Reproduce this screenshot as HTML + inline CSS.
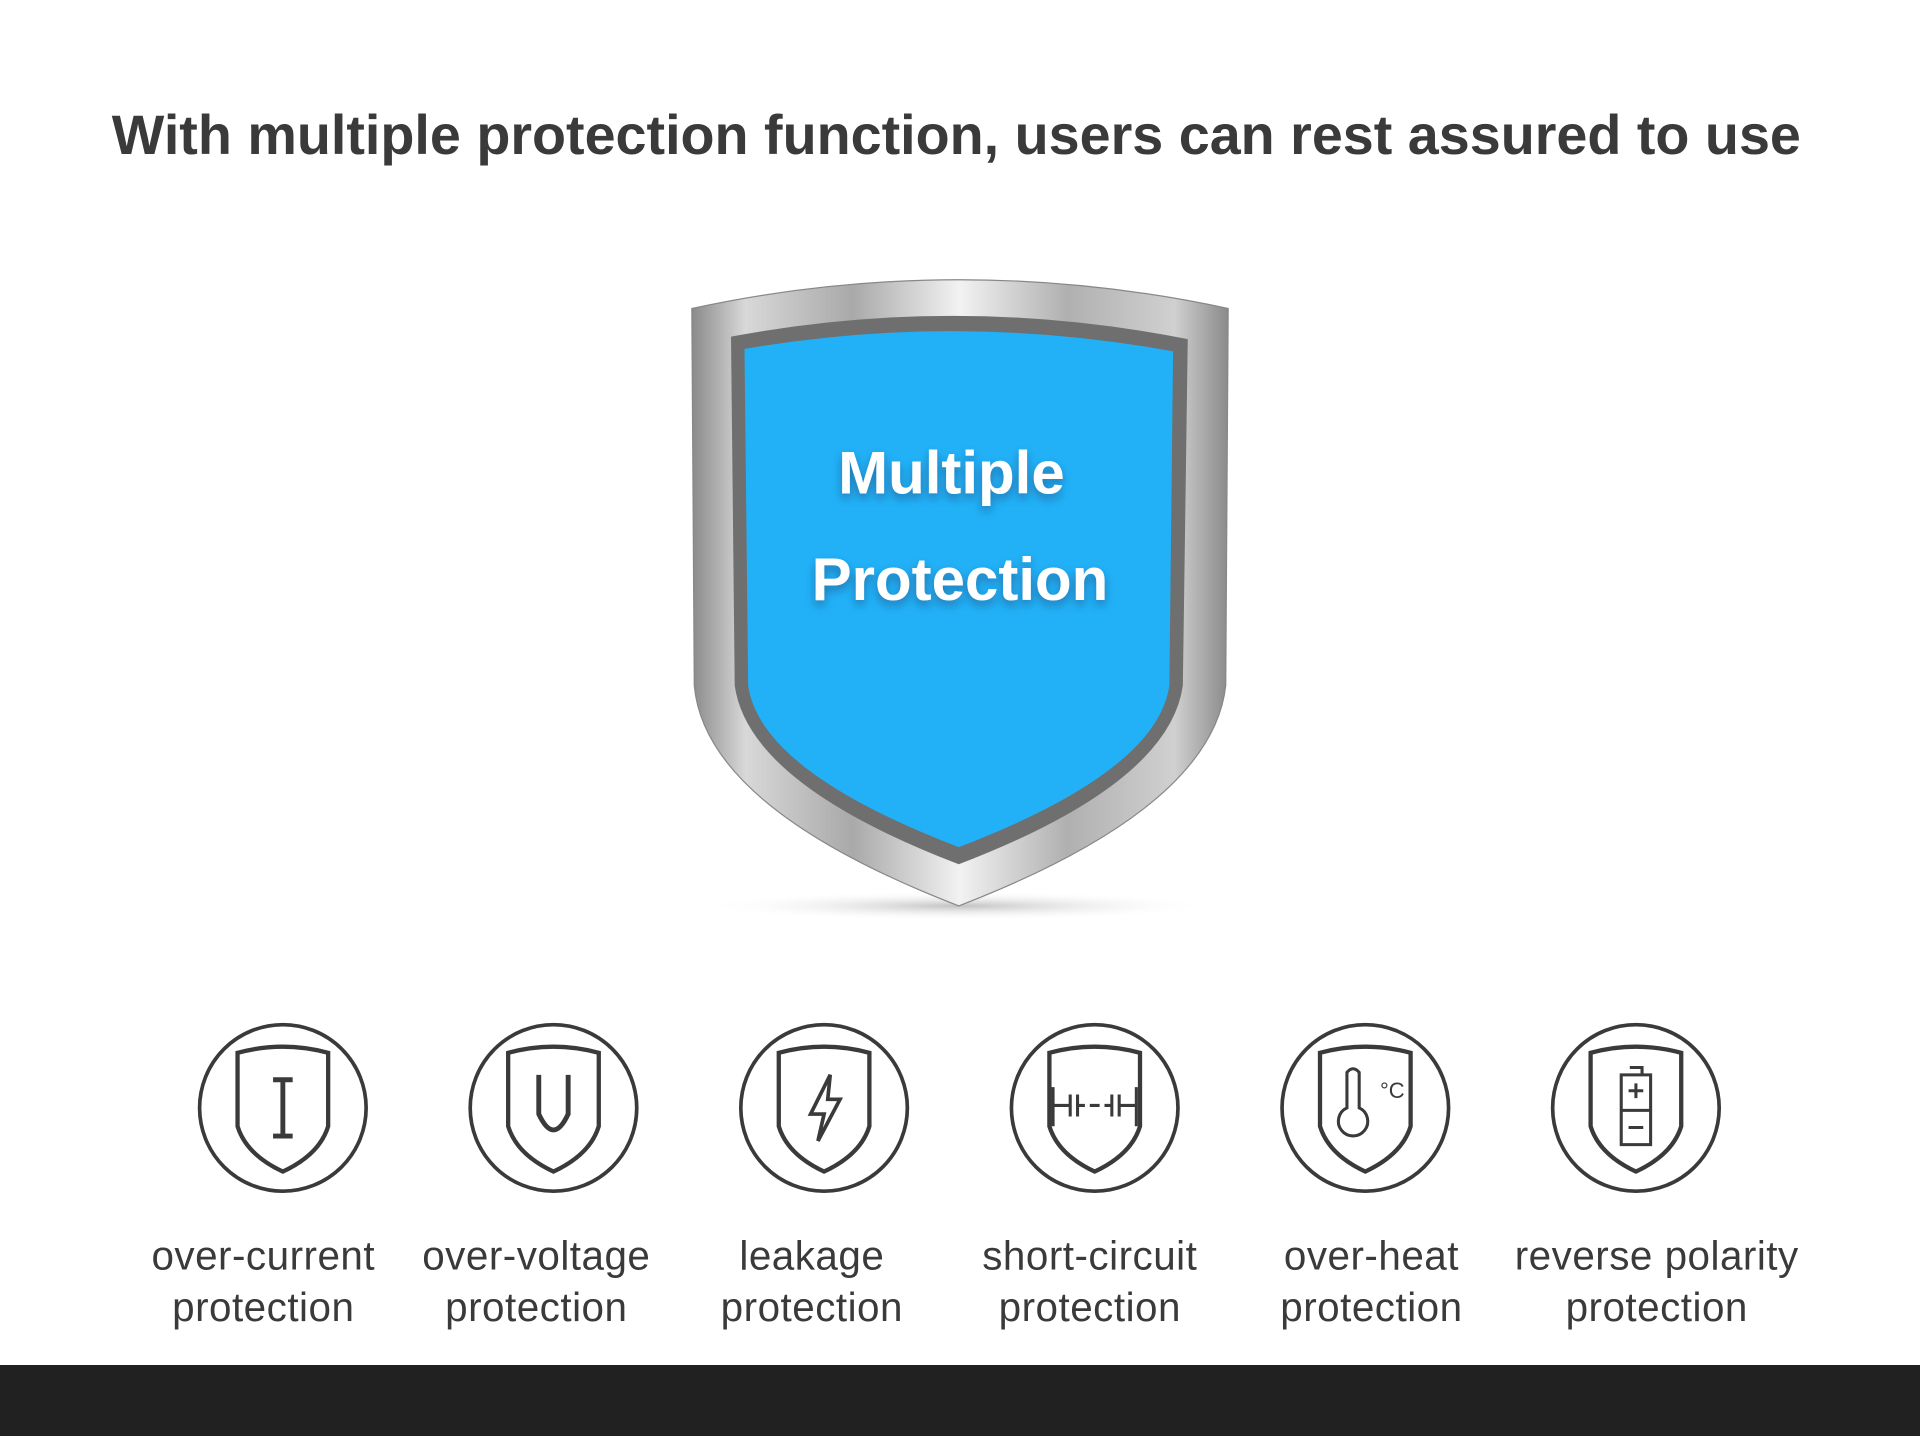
<!DOCTYPE html>
<html><head><meta charset="utf-8"><style>
html,body{margin:0;padding:0;background:#fff;width:1920px;height:1436px;overflow:hidden}
svg{display:block}
</style></head><body>
<svg width="1920" height="1436" viewBox="0 0 1568 1173" preserveAspectRatio="none" xmlns="http://www.w3.org/2000/svg">
<defs>
<linearGradient id="metal" x1="0" x2="1" y1="0" y2="0">
<stop offset="0" stop-color="#8a8a8a"/><stop offset="0.1" stop-color="#d8d8d8"/><stop offset="0.3" stop-color="#a9a9a9"/><stop offset="0.5" stop-color="#f2f2f2"/><stop offset="0.7" stop-color="#b0b0b0"/><stop offset="0.9" stop-color="#d0d0d0"/><stop offset="1" stop-color="#8a8a8a"/>
</linearGradient>
<radialGradient id="sh" cx="0.5" cy="0.5" r="0.5"><stop offset="0" stop-color="#999" stop-opacity="0.6"/><stop offset="1" stop-color="#fff" stop-opacity="0"/></radialGradient>
<filter id="ts"><feDropShadow dx="0" dy="4" stdDeviation="4" flood-color="#1a4e80" flood-opacity="0.6"/></filter>
<g id="ishield"><path d="M-37,-45 Q0,-55 37,-45 L37,15 Q30,38 0,52 Q-30,38 -37,15 Z" fill="none" stroke="#3a3a3a" stroke-width="3.5"/></g>
</defs>
<rect width="1568" height="1173" fill="#fff"/>
<text x="781" y="126" text-anchor="middle" font-family="Liberation Sans, sans-serif" font-weight="bold" font-size="45.5" fill="#3a3a3a">With multiple protection function, users can rest assured to use</text>
<ellipse cx="783" cy="740" rx="210" ry="12" fill="url(#sh)"/>
<path d="M565,252 Q783,205 1003,252 L1001,560 Q990,660 783,740 Q576,660 567,560 Z" fill="url(#metal)" stroke="#888" stroke-width="1"/>
<path d="M597,275 Q783,240 970,277 L966,560 Q955,640 783,706 Q611,640 600,560 Z" fill="#6f6f6f"/>
<path d="M608,285 Q783,255 958,287 L955,560 Q945,630 783,692 Q621,630 611,560 Z" fill="#22b1f7"/>
<g font-family="Liberation Sans, sans-serif" font-weight="bold" font-size="49" fill="#fff" text-anchor="middle" filter="url(#ts)">
<text x="777" y="403">Multiple</text>
<text x="784" y="490">Protection</text>
</g>
<g fill="none" stroke="#3a3a3a" stroke-width="3">
<circle cx="231" cy="905" r="68"/><circle cx="452" cy="905" r="68"/><circle cx="673" cy="905" r="68"/><circle cx="894" cy="905" r="68"/><circle cx="1115" cy="905" r="68"/><circle cx="1336" cy="905" r="68"/>
</g>
<use href="#ishield" x="231" y="905"/><use href="#ishield" x="452" y="905"/><use href="#ishield" x="673" y="905"/><use href="#ishield" x="894" y="905"/><use href="#ishield" x="1115" y="905"/><use href="#ishield" x="1336" y="905"/>
<g fill="none" stroke="#3a3a3a" stroke-width="4">
<path d="M231,882 V928 M223,882 H239 M223,928 H239"/>
<path d="M440,878 V910 Q452,936 464,910 V878"/>
</g>
<path d="M678,878 L662,910 H673 L668,932 L686,898 H676 Z" fill="none" stroke="#3a3a3a" stroke-width="3"/>
<g fill="none" stroke="#3a3a3a" stroke-width="2.5">
<path d="M860,888 V920 M928,888 V920 M860,903 H874 M874,894 V912 M880,894 V912 M880,903 H886 M890,903 H898 M902,903 H908 M908,894 V912 M914,894 V912 M914,903 H928"/>
<path d="M1100,876 V905 A12,12 0 1 0 1110,905 V876 Q1105,870 1100,876 Z"/>
<path d="M1324,878 H1348 V935 H1324 Z M1331,872 H1341 V878 M1336,885 V897 M1330,891 H1342 M1330,921 H1342 M1324,907 H1348"/>
</g>
<text x="1127" y="897" font-family="Liberation Sans, sans-serif" font-size="18" fill="#3a3a3a">°C</text>
<g font-family="Liberation Sans, sans-serif" font-size="33" letter-spacing="0.4" fill="#3a3a3a" text-anchor="middle">
<text x="215" y="1037">over-current</text><text x="215" y="1079">protection</text>
<text x="438" y="1037">over-voltage</text><text x="438" y="1079">protection</text>
<text x="663" y="1037">leakage</text><text x="663" y="1079">protection</text>
<text x="890" y="1037">short-circuit</text><text x="890" y="1079">protection</text>
<text x="1120" y="1037">over-heat</text><text x="1120" y="1079">protection</text>
<text x="1353" y="1037">reverse polarity</text><text x="1353" y="1079">protection</text>
</g>
<rect x="0" y="1115" width="1568" height="58" fill="#212121"/>
</svg>
</body></html>
